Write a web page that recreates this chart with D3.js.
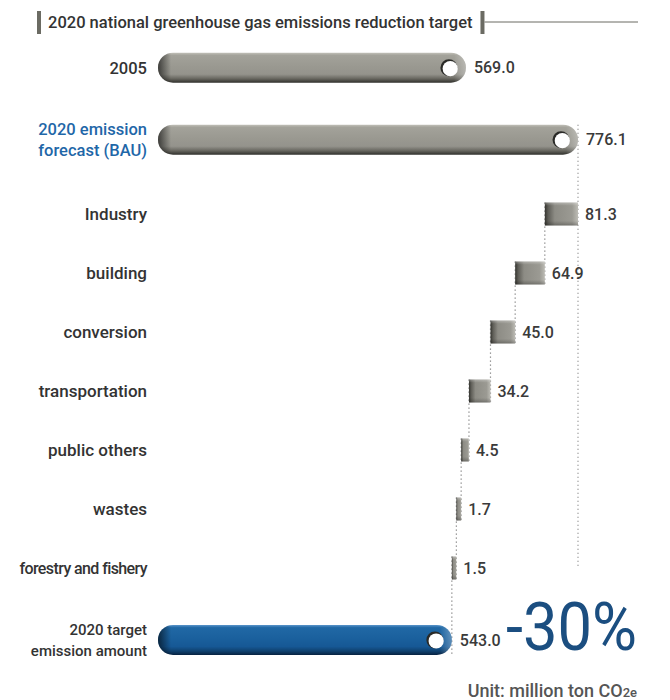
<!DOCTYPE html>
<html><head><meta charset="utf-8">
<script src="https://cdn.jsdelivr.net/npm/d3@7"></script>
<style>
html,body{margin:0;padding:0;background:#fff;}
text{font-family:Roboto,"DejaVu Sans",sans-serif;}
</style></head>
<body>
<svg id="chart" width="670" height="700"></svg>
<script>
// ---- data ----
const titleText = "2020 national greenhouse gas emissions reduction target";
const totalLabels = [["2005"], ["2020 emission", "forecast (BAU)"], ["2020 target", "emission amount"]];
const totalValues = [569.0, 776.1, 543.0];
const sectorLabels = ["Industry", "building", "conversion", "transportation", "public others", "wastes", "forestry and fishery"];
const sectorCuts = [81.3, 64.9, 45.0, 34.2, 4.5, 1.7, 1.5];
const reductionText = "-30%";
const unitText = ["Unit: million ton CO", "2e"];

// ---- layout ----
const svg = d3.select("#chart");
const defs = svg.append("defs");
const labelRight = 147;
const barH = 30, stepH = 23;

const x = d3.scaleLinear().domain([0, totalValues[1]]).range([158, 578]);

// sector rows evenly spaced; total rows sit a little further out
const yStep = d3.scalePoint().domain(sectorLabels).range([214, 568]);
const stepGap = yStep.step();
const yTotal = [];
yTotal[1] = yStep(sectorLabels[0]) - 1.26 * stepGap;
yTotal[0] = yTotal[1] - 1.22 * stepGap;
yTotal[2] = yStep(sectorLabels[sectorLabels.length - 1]) + 1.22 * stepGap;

// reduction blocks: sqrt-scaled widths, cascading from the BAU end to the target end
const sqrtSum = d3.sum(sectorCuts, v => Math.sqrt(v));
const k = (x(totalValues[1]) - x(totalValues[2])) / sqrtSum;
const maxCut = d3.max(sectorCuts);
const w = d3.scaleSqrt().domain([0, maxCut]).range([0, k * Math.sqrt(maxCut)]);
let right = x(totalValues[1]);
const steps = sectorCuts.map((v, i) => {
  const s = { label: sectorLabels[i], value: v, x1: right, x0: right - w(v), cy: yStep(sectorLabels[i]) };
  right = s.x0;
  return s;
});

// ---- gradients ----
function vGrad(id, stops) {
  const g = defs.append("linearGradient").attr("id", id).attr("x1", 0).attr("y1", 0).attr("x2", 0).attr("y2", 1);
  stops.forEach(([o, c, a]) => g.append("stop").attr("offset", o).attr("stop-color", c).attr("stop-opacity", a == null ? 1 : a));
}
vGrad("pillGray", [[0, "#c2c1b9"], [0.09, "#a3a29a"], [0.45, "#9a9991"], [0.72, "#94938c"], [0.87, "#67665f"], [1, "#30302c"]]);
vGrad("pillBlue", [[0, "#5a95ca"], [0.09, "#2068a5"], [0.45, "#1a609d"], [0.72, "#165895"], [0.87, "#0f416f"], [1, "#072241"]]);
vGrad("blockShade", [[0, "#ffffff", 0.3], [0.14, "#ffffff", 0], [0.8, "#000000", 0], [1, "#000000", 0.25]]);
const bg = defs.append("linearGradient").attr("id", "blockFill").attr("x1", 0).attr("y1", 0).attr("x2", 1).attr("y2", 0);
[[0, "#34342f"], [0.1, "#5e5d57"], [0.3, "#8d8c85"], [0.82, "#9b9a93"], [1, "#bdbcb5"]]
  .forEach(([o, c]) => bg.append("stop").attr("offset", o).attr("stop-color", c));

function pill(x0, x1, cy, fillId, idx) {
  const width = x1 - x0;
  const g = svg.append("g");
  g.append("rect").attr("x", x0).attr("y", cy - barH / 2).attr("width", width).attr("height", barH)
    .attr("rx", barH / 2).attr("fill", `url(#${fillId})`);
  const hg = defs.append("linearGradient").attr("id", "pillSide" + idx)
    .attr("gradientUnits", "userSpaceOnUse").attr("x1", x0).attr("x2", x1).attr("y1", 0).attr("y2", 0);
  [[0, "#000", 0.6], [13 / width, "#000", 0], [1 - 12 / width, "#fff", 0], [1, "#fff", 0.3]]
    .forEach(([o, c, a]) => hg.append("stop").attr("offset", o).attr("stop-color", c).attr("stop-opacity", a));
  g.append("rect").attr("x", x0).attr("y", cy - barH / 2).attr("width", width).attr("height", barH)
    .attr("rx", barH / 2).attr("fill", `url(#pillSide${idx})`);
  const hx = x1 - 17;
  g.append("circle").attr("cx", hx).attr("cy", cy).attr("r", 8.5).attr("fill", "#2a2a27");
  g.append("circle").attr("cx", hx + 1.3).attr("cy", cy + 1).attr("r", 7.6).attr("fill", "#fff");
}

// ---- title ----
const title = svg.append("text").attr("x", 48).attr("y", 28).attr("font-size", 16.5).attr("font-weight", 500)
  .attr("fill", "#333").text(titleText);
svg.append("rect").attr("x", 37).attr("y", 11).attr("width", 4).attr("height", 23).attr("fill", "#6b6b63");
const tEnd = 48 + title.node().getComputedTextLength();
svg.append("rect").attr("x", tEnd + 8).attr("y", 11).attr("width", 4).attr("height", 23).attr("fill", "#6b6b63");
svg.append("line").attr("x1", tEnd + 12).attr("x2", 638).attr("y1", 22).attr("y2", 22)
  .attr("stroke", "#6b6b63").attr("stroke-width", 1);

// ---- dotted guides ----
const dot = { stroke: "#808080", "stroke-width": 1.2, "stroke-dasharray": "1.2,2.8" };
function vline(xv, y1, y2) {
  const l = svg.append("line").attr("x1", xv).attr("x2", xv).attr("y1", y1).attr("y2", y2);
  Object.entries(dot).forEach(([a, v]) => l.attr(a, v));
}
vline(x(totalValues[1]), yTotal[1] - barH / 2, steps[steps.length - 1].cy);
steps.forEach((s, i) => {
  const next = steps[i + 1];
  const yEnd = next ? next.cy + stepH / 2 : yTotal[2] + barH / 2;
  vline(s.x0, s.cy - stepH / 2, yEnd);
});

// ---- total bars ----
totalValues.forEach((v, i) => {
  pill(x(0), x(v), yTotal[i], i === 2 ? "pillBlue" : "pillGray", i);
  svg.append("text").attr("x", x(v) + 8).attr("y", yTotal[i]).attr("dy", "0.36em")
    .attr("font-size", 16).attr("font-weight", 500).attr("fill", "#3a3a3a").text(v.toFixed(1));
  const lines = totalLabels[i];
  const fs = i === 2 ? 15 : 16.5;
  const t = svg.append("text").attr("text-anchor", "end").attr("font-size", fs).attr("font-weight", 500)
    .attr("fill", i === 1 ? "#1f67a8" : "#333");
  lines.forEach((ln, j) => {
    t.append("tspan").attr("x", labelRight)
      .attr("y", yTotal[i] + (j - (lines.length - 1) / 2) * 21).attr("dy", "0.36em").text(ln);
  });
});

// ---- reduction blocks ----
steps.forEach(s => {
  const bw = s.x1 - s.x0;
  svg.append("rect").attr("x", s.x0).attr("y", s.cy - stepH / 2).attr("width", bw).attr("height", stepH)
    .attr("fill", "url(#blockFill)");
  svg.append("rect").attr("x", s.x0).attr("y", s.cy - stepH / 2).attr("width", bw).attr("height", stepH)
    .attr("fill", "url(#blockShade)");
  svg.append("text").attr("x", s.x1 + 7).attr("y", s.cy).attr("dy", "0.36em")
    .attr("font-size", 16).attr("font-weight", 500).attr("fill", "#3a3a3a").text(s.value.toFixed(1));
  const lab = svg.append("text").attr("x", labelRight).attr("y", s.cy).attr("dy", "0.36em")
    .attr("text-anchor", "end").attr("font-size", 17).attr("font-weight", 500).attr("fill", "#333").text(s.label);
  if (s.label.length > 16) lab.attr("letter-spacing", -0.6).attr("font-size", 16);
});

// ---- reduction share & unit ----
svg.append("text").attr("x", 637).attr("y", 650).attr("text-anchor", "end").attr("font-size", 66)
  .attr("textLength", 131).attr("lengthAdjust", "spacingAndGlyphs")
  .attr("fill", "#1b4e80").text(reductionText);
const unit = svg.append("text").attr("x", 637).attr("y", 697).attr("text-anchor", "end")
  .attr("font-size", 18).attr("font-weight", 500).attr("fill", "#555");
unit.append("tspan").text(unitText[0]);
unit.append("tspan").attr("font-size", 13).text(unitText[1]);
</script>
</body></html>
